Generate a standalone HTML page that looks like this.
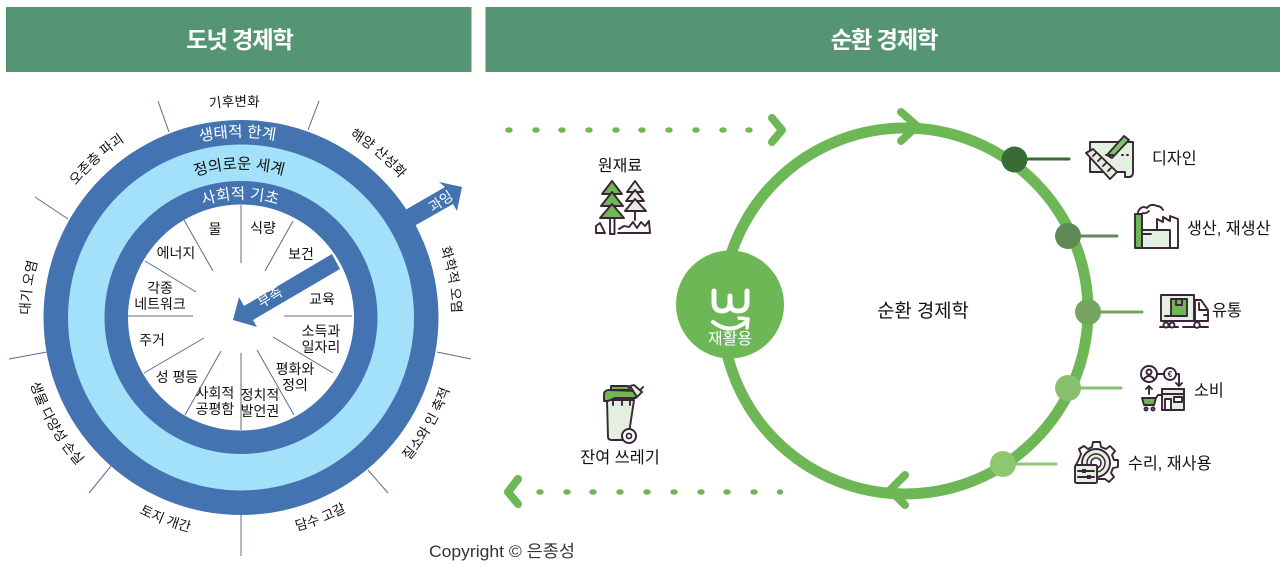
<!DOCTYPE html>
<html lang="ko"><head><meta charset="utf-8"><title>도넛 경제학과 순환 경제학</title>
<style>
html,body{margin:0;padding:0;background:#fff;width:1280px;height:567px;overflow:hidden}
svg{display:block}
text{font-family:"Liberation Sans","Noto Sans CJK KR",sans-serif;fill:#111}
.c{text-anchor:middle}
.l{font-size:14px}
.o{font-size:13.600px;text-anchor:middle}
.i{fill:#e4f0df;stroke:#3a2438;stroke-width:1.900;stroke-linejoin:round;stroke-linecap:round}
.g{fill:#6db757;stroke:#3a2438;stroke-width:1.900;stroke-linejoin:round;stroke-linecap:round}
.n{fill:none;stroke:#3a2438;stroke-width:1.900;stroke-linejoin:round;stroke-linecap:round}
.k{fill:none;stroke:#6db757;stroke-width:8;stroke-linecap:round;stroke-linejoin:round}
</style></head><body>
<svg width="1280" height="567" viewBox="0 0 1280 567" xmlns="http://www.w3.org/2000/svg">
<defs>
<path id="cw209" d="M241,528 A211,211 0 1 1 241,106 A211,211 0 1 1 241,528"/>
<path id="ccw220" d="M241,96 A221,221 0 1 0 241,538 A221,221 0 1 0 241,96"/>
<path id="r180" d="M241,497 A180,180 0 1 1 241,137 A180,180 0 1 1 241,497"/>
<path id="r148" d="M241,465 A148,148 0 1 1 241,169 A148,148 0 1 1 241,465"/>
<path id="r118" d="M241,435 A118,118 0 1 1 241,199 A118,118 0 1 1 241,435"/>
</defs>

<rect x="6" y="7" width="465.500" height="65" fill="#569573"/>
<rect x="485.500" y="7" width="794.500" height="65" fill="#569573"/>
<text x="239.500" y="48" class="c" font-size="23.300" font-weight="700" letter-spacing="-1.200" style="fill:#fff">도넛 경제학</text>
<text x="884" y="48" class="c" font-size="23.300" font-weight="700" letter-spacing="-1.200" style="fill:#fff">순환 경제학</text>

<!-- Doughnut -->
<g stroke="#5f6b85" stroke-width="1" fill="none">
<path d="M158,101L169,132M35,197L68,219M319,101L308,130M9,359L47,352M89,493L111,466M241,515V556M368,470L388,493M437,352L471,359"/>
</g>
<circle cx="241" cy="317.500" r="197.500" fill="#4473b1"/>
<circle cx="241" cy="317.500" r="173" fill="#a3e1fb"/>
<circle cx="241" cy="317.500" r="136.500" fill="#4473b1"/>
<circle cx="241" cy="317.500" r="113" fill="#fff"/>
<g stroke="#5f6b85" stroke-width="1" fill="none">
<path d="M241,205V263M184,220L213,271M145,261L196,292M128,316H193M293,221L265,271M284,316H352M273,337L333,373M257,350L294,415M241,353V430M221,351L185,415M204,338L144,373"/>
</g>
<polygon points="400,213 445,187 439,182 462,187 457,211 453,204 409,229" fill="#4473b1"/>
<polygon points="233,320 239,297 244,306 332,254 340,269 253,320 257,327" fill="#4473b1"/>
<text transform="translate(443.500,205.500) rotate(-33)" class="c" font-size="14" style="fill:#fff">과잉</text>
<text transform="translate(272.500,301.500) rotate(-31)" class="c" font-size="14" style="fill:#fff">부족</text>

<text font-size="15.500" class="c" style="fill:#fff"><textPath href="#r180" startOffset="49.700%">생태적 한계</textPath></text>
<text font-size="15.400" class="c"><textPath href="#r148" startOffset="49.800%">정의로운 세계</textPath></text>
<text font-size="15.500" class="c" style="fill:#fff"><textPath href="#r118" startOffset="49.900%">사회적 기초</textPath></text>

<text class="o"><textPath href="#cw209" startOffset="49.500%">기후변화</textPath></text>
<text class="o"><textPath href="#cw209" startOffset="38.200%">오존층 파괴</textPath></text>
<text class="o"><textPath href="#cw209" startOffset="27.200%">대기 오염</textPath></text>
<text class="o"><textPath href="#cw209" startOffset="61.100%">해양 산성화</textPath></text>
<text class="o"><textPath href="#cw209" startOffset="72.200%">화학적 오염</textPath></text>
<text class="o"><textPath href="#ccw220" startOffset="66.700%">질소와 인 축적</textPath></text>
<text class="o"><textPath href="#ccw220" startOffset="56%">담수 고갈</textPath></text>
<text class="o"><textPath href="#ccw220" startOffset="44.300%">토지 개간</textPath></text>
<text class="o"><textPath href="#ccw220" startOffset="33.300%">생물 다양성 손실</textPath></text>

<g class="l">
<text x="215" y="234" class="c">물</text>
<text x="263" y="233" class="c">식량</text>
<text x="301" y="259" class="c">보건</text>
<text x="176" y="258" class="c">에너지</text>
<text x="160" y="293" class="c">각종</text>
<text x="160" y="309" class="c">네트워크</text>
<text x="322" y="304" class="c">교육</text>
<text x="321" y="336" class="c">소득과</text>
<text x="321" y="352" class="c">일자리</text>
<text x="152" y="345" class="c">주거</text>
<text x="177" y="382" class="c">성 평등</text>
<text x="295" y="374" class="c">평화와</text>
<text x="295" y="390" class="c">정의</text>
<text x="215" y="398" class="c">사회적</text>
<text x="215" y="414" class="c">공평함</text>
<text x="260" y="400" class="c">정치적</text>
<text x="260" y="416" class="c">발언권</text>
</g>

<text x="429" y="557" font-size="17" textLength="146" lengthAdjust="spacingAndGlyphs" style="fill:#333">Copyright © 은종성</text>

<!-- Circular economy -->
<circle cx="905" cy="311" r="183" fill="none" stroke="#6db757" stroke-width="11"/>
<circle cx="730" cy="304.500" r="54" fill="#6db757"/>
<polyline class="k" points="901,112 917,126 901,141"/>
<polyline class="k" points="905,475 890,490 905,505"/>
<path d="M714,291V302Q714,311 722,311Q730,311 730,302V296M730,302Q730,311 738,311Q747,311 747,302V291" fill="none" stroke="#fff" stroke-width="5" stroke-linecap="round"/>
<path d="M713,322Q730,335 746,322" fill="none" stroke="#fff" stroke-width="4" stroke-linecap="round"/>
<path d="M739,318L748,319L747,328" fill="none" stroke="#fff" stroke-width="3.500" stroke-linecap="round" stroke-linejoin="round"/>
<text x="730" y="344" class="c" font-size="16" style="fill:#fff">재활용</text>
<text x="923" y="317" class="c" font-size="18.800">순환 경제학</text>

<g fill="#6db757">
<ellipse cx="509" cy="130" rx="3.700" ry="2.800"/><ellipse cx="536" cy="130" rx="3.700" ry="2.800"/><ellipse cx="562" cy="130" rx="3.700" ry="2.800"/><ellipse cx="589" cy="130" rx="3.700" ry="2.800"/><ellipse cx="616" cy="130" rx="3.700" ry="2.800"/><ellipse cx="642" cy="130" rx="3.700" ry="2.800"/><ellipse cx="669" cy="130" rx="3.700" ry="2.800"/><ellipse cx="696" cy="130" rx="3.700" ry="2.800"/><ellipse cx="723" cy="130" rx="3.700" ry="2.800"/><ellipse cx="749" cy="130" rx="3.700" ry="2.800"/>
<ellipse cx="540" cy="492" rx="3.700" ry="2.800"/><ellipse cx="567" cy="492" rx="3.700" ry="2.800"/><ellipse cx="593" cy="492" rx="3.700" ry="2.800"/><ellipse cx="620" cy="492" rx="3.700" ry="2.800"/><ellipse cx="647" cy="492" rx="3.700" ry="2.800"/><ellipse cx="674" cy="492" rx="3.700" ry="2.800"/><ellipse cx="701" cy="492" rx="3.700" ry="2.800"/><ellipse cx="727" cy="492" rx="3.700" ry="2.800"/><ellipse cx="754" cy="492" rx="3.700" ry="2.800"/><ellipse cx="780" cy="492" rx="3.200" ry="2.800"/>
</g>
<polyline class="k" points="772,118 782,130 772,142"/>
<polyline class="k" points="518,479 508,492 518,504"/>

<text x="620" y="171" class="c" font-size="16">원재료</text>
<text x="620" y="463" class="c" font-size="16.300">잔여 쓰레기</text>

<!-- trees -->
<g>
<rect x="610" y="218" width="4.500" height="16" class="i" style="fill:#fff"/>
<polygon class="g" points="612,181 602,194 622,194"/>
<polygon class="g" points="612,192 601,206 623,206"/>
<polygon class="g" points="612,204 600,218 624,218"/>
<path class="n" d="M635,210V220"/>
<polygon class="i" points="635,181 627,192 643,192"/>
<polygon class="i" points="635,190 626,201 644,201"/>
<polygon class="i" points="635,199 625,211 646,211"/>
<path class="n" d="M596,233V226L600,223L605,233ZM618,233H650L649,221L645,226L641,222L637,228L633,222L629,227L624,226L619,229"/>
</g>

<!-- trash -->
<g>
<path class="i" d="M607,400L608,437Q608,440 612,440H628L634,400Z"/>
<path class="n" d="M613,399V405M622,399V405M630,399V405M634,397L643,387"/>
<path class="g" d="M604,401V394Q604,391 608,390L637,391L636,398L615,398L608,401Z"/>
<path class="g" d="M611,390V386H628L630,390Z"/>
<path class="i" d="M630,386L634,385L642,392L637,397Z"/>
<circle cx="629" cy="436" r="7" fill="#fff" stroke="#3a2438" stroke-width="2"/>
<circle cx="629" cy="436" r="2.500" fill="#fff" stroke="#3a2438" stroke-width="1.800"/>
</g>

<!-- connectors -->
<g stroke-width="3" stroke-linecap="round">
<path d="M1015,159H1069" stroke="#386b35"/>
<path d="M1068,236H1117" stroke="#5f8a55"/>
<path d="M1088,312H1142" stroke="#76a360"/>
<path d="M1068,388H1121" stroke="#88c070"/>
<path d="M1003,464H1056" stroke="#8fc670"/>
</g>
<circle cx="1014.500" cy="159.500" r="13" fill="#386b35"/>
<circle cx="1068" cy="236" r="13" fill="#5f8a55"/>
<circle cx="1088" cy="312" r="13" fill="#76a360"/>
<circle cx="1068" cy="388" r="13" fill="#88c070"/>
<circle cx="1003" cy="464" r="13" fill="#8fc670"/>

<g font-size="16.200">
<text x="1152" y="164">디자인</text>
<text x="1187" y="234">생산, 재생산</text>
<text x="1212" y="316">유통</text>
<text x="1194" y="396">소비</text>
<text x="1128" y="469">수리, 재사용</text>
</g>

<!-- design icon -->
<g>
<path class="i" d="M1090,142H1133V172Q1133,177 1129,177H1125V172H1090Z"/>
<polygon class="i" points="1086,153 1093,149 1117,172 1110,179"/>
<path class="n" d="M1093,156L1096,153M1098,161L1101,158M1103,166L1106,163M1108,171L1111,168"/>
<polygon class="g" points="1107,155 1124,136 1129,140 1112,158" style="fill:#7cc465"/>
<path class="n" d="M1106,155H1113M1122,155H1123M1127,155H1128"/>
</g>

<!-- factory icon -->
<g>
<rect x="1135" y="214" width="7" height="34" class="g"/>
<path class="i" d="M1142,230H1170V248H1142Z"/>
<path class="i" d="M1157,219L1163,222V217L1170,221V216L1178,219V248H1170V230H1157Z" style="fill:#fff"/>
<path class="n" d="M1142,234H1151M1138,212Q1141,205 1147,208Q1151,203 1157,206Q1161,206 1163,210M1143,213Q1146,214 1149,211"/>
</g>

<!-- truck icon -->
<g>
<rect x="1161" y="295" width="33" height="26" class="i"/>
<path class="g" d="M1171,299H1187V316H1171Z"/>
<path class="n" d="M1176,299V305H1182V299M1165,316H1170"/>
<path class="i" d="M1195,300H1201L1208,310V321H1195Z" style="fill:#fff"/>
<path class="n" d="M1199,303V310H1207M1204,315H1208M1160,327H1178M1183,327H1208"/>
<circle cx="1166" cy="325" r="2.500" class="i" style="fill:#fff"/>
<circle cx="1172" cy="325" r="2.500" class="i" style="fill:#fff"/>
<circle cx="1197" cy="325" r="2.800" class="i" style="fill:#fff"/>
</g>

<!-- consumption icon -->
<g>
<circle cx="1149" cy="374" r="8" class="i" style="fill:#fff"/>
<circle cx="1149" cy="372" r="2.500" class="n"/>
<path class="n" d="M1144,379Q1149,373 1154,379M1157,374H1164"/>
<circle cx="1170" cy="374" r="6" class="i" style="fill:#fff"/>
<text x="1170" y="377" class="c" font-size="8" font-weight="700" style="fill:#3a2438">€</text>
<path class="n" d="M1176,374H1179V386M1176,383L1179,386L1182,383M1149,394V386M1146,389L1149,386L1152,389"/>
<rect x="1162" y="389" width="22" height="21" class="i"/>
<rect x="1162" y="389" width="22" height="5" class="n"/>
<rect x="1165" y="399" width="6" height="11" class="n" style="fill:#fff"/>
<rect x="1174" y="397" width="8" height="5" class="n" style="fill:#fff"/>
<polygon class="g" points="1142,398 1156,398 1154,405 1144,405"/>
<path class="n" d="M1156,398L1158,395H1161"/>
<circle cx="1146" cy="409" r="1.500" class="n"/><circle cx="1153" cy="409" r="1.500" class="n"/>
</g>

<!-- gear icon -->
<g>
<path class="i" d="M1093,442H1100L1101,447L1106,449L1110,446L1115,451L1112,455L1114,460H1118V467L1113,468L1111,473L1114,477L1109,482L1105,479H1082V470H1076V465L1079,459L1081,454L1079,449L1084,446L1088,449L1092,447Z" style="fill:#fff"/>
<circle cx="1096" cy="463" r="14" class="i"/>
<circle cx="1096" cy="463" r="9" fill="none" stroke="#3a2438" stroke-width="1.500"/>
<circle cx="1096" cy="463" r="5" fill="#fff" stroke="#3a2438" stroke-width="1.500"/>
<rect x="1075" y="465" width="22" height="18" rx="1.500" class="i"/>
<path class="n" d="M1078,471H1094M1078,477H1094"/>
<rect x="1082" y="469" width="4" height="4" fill="#3a2438"/>
<rect x="1087" y="475" width="4" height="4" fill="#3a2438"/>
</g>
</svg>
</body></html>
